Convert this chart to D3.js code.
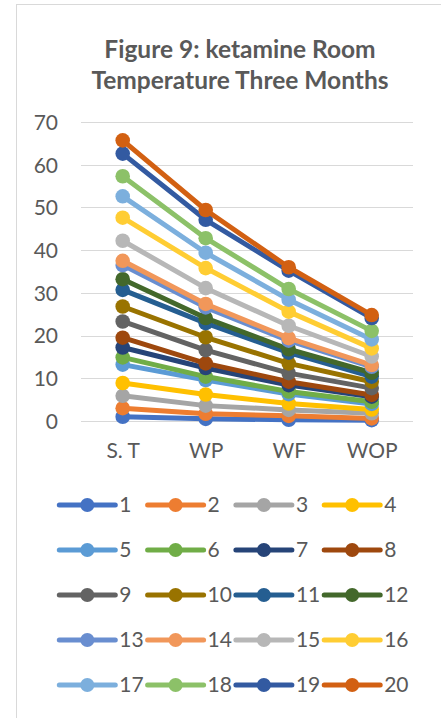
<!DOCTYPE html>
<html><head><meta charset="utf-8">
<script src="https://cdn.jsdelivr.net/npm/d3@7"></script>
<style>html,body{margin:0;padding:0;background:#fff;}svg{display:block;}</style>
</head><body>
<svg id="chart" width="441" height="718"></svg>
<script>
const categories = ["S. T", "WP", "WF", "WOP"];
const seriesNames = ["1","2","3","4","5","6","7","8","9","10","11","12","13","14","15","16","17","18","19","20"];
const s1  = [1.0, 0.5, 0.3, 0.2];
const s2  = [3.0, 1.7, 1.2, 0.6];
const s3  = [5.9, 3.6, 2.6, 1.8];
const s4  = [8.9, 6.2, 4.1, 2.7];
const s5  = [13.2, 9.6, 6.3, 4.0];
const s6  = [14.9, 10.4, 6.9, 4.5];
const s7  = [17.2, 12.4, 8.4, 5.7];
const s8  = [19.5, 13.5, 9.2, 6.1];
const s9  = [23.3, 16.6, 11.2, 7.7];
const s10 = [26.8, 19.6, 13.5, 9.2];
const s11 = [30.7, 22.9, 16.0, 10.4];
const s12 = [33.2, 24.1, 16.8, 11.3];
const s13 = [36.5, 26.6, 18.8, 12.7];
const s14 = [37.5, 27.4, 19.4, 13.1];
const s15 = [42.2, 31.1, 22.3, 15.1];
const s16 = [47.6, 35.8, 25.6, 17.0];
const s17 = [52.6, 39.4, 28.4, 19.1];
const s18 = [57.3, 42.8, 30.9, 21.1];
const s19 = [62.6, 47.1, 35.2, 24.1];
const s20 = [65.7, 49.4, 36.0, 24.8];
const yTicks = [0, 10, 20, 30, 40, 50, 60, 70];
const colors = ["#4472C4","#ED7D31","#A5A5A5","#FFC000","#5B9BD5","#70AD47","#264478","#9E480E","#636363","#997300","#255E91","#43682B","#698ED0","#F1975A","#B7B7B7","#FFCD33","#7CAFDD","#8CC168","#335AA1","#D26012"];
const titleLines = ["Figure 9: ketamine Room", "Temperature Three Months"];

const allSeries = [s1,s2,s3,s4,s5,s6,s7,s8,s9,s10,s11,s12,s13,s14,s15,s16,s17,s18,s19,s20];
const data = seriesNames.map((n,i)=>({name:n, values:allSeries[i], color:colors[i]}));

const svg = d3.select("#chart");
const FONT = "Lato, 'Open Sans', sans-serif";
const TXT = "#595959";

// chart border
svg.append("rect").attr("x",16.5).attr("y",4.5).attr("width",430).attr("height",720)
  .attr("fill","#fff").attr("stroke","#D9D9D9").attr("stroke-width",1);

// title
const title = svg.append("g");
titleLines.forEach((t,i)=>{
  title.append("text").attr("x",240).attr("y",57.5+i*31).attr("text-anchor","middle")
    .attr("font-family",FONT).attr("font-weight","bold").attr("font-size",24.5)
    .attr("fill",TXT).text(t);
});

const x = d3.scalePoint().domain(categories).range([122.7, 371.7]);
const y = d3.scaleLinear().domain([0,70]).range([421,122]);

// gridlines
svg.append("g").selectAll("line").data(yTicks).join("line")
  .attr("x1",81).attr("x2",413).attr("y1",d=>Math.round(y(d))+0.5).attr("y2",d=>Math.round(y(d))+0.5)
  .attr("stroke","#D9D9D9").attr("stroke-width",1);

// y axis
const yAxis = svg.append("g").attr("transform","translate(58,0)")
  .call(d3.axisLeft(y).tickValues(yTicks).tickSize(0).tickPadding(0));
yAxis.select(".domain").remove();
yAxis.selectAll("text").attr("font-family",FONT).attr("font-size",21).attr("fill",TXT).attr("dy","0.35em");

// x axis
const xAxis = svg.append("g").attr("transform","translate(0,421)")
  .call(d3.axisBottom(x).tickSize(0).tickPadding(0));
xAxis.select(".domain").remove();
xAxis.selectAll("text").attr("font-family",FONT).attr("font-size",21).attr("fill",TXT).attr("dy",0).attr("y",37);

// lines
const line = d3.line().x((d,i)=>x(categories[i])).y(d=>y(d));
const gS = svg.append("g");
data.forEach(s=>{
  const g = gS.append("g");
  g.append("path").attr("d",line(s.values)).attr("fill","none").attr("stroke",s.color)
    .attr("stroke-width",5).attr("stroke-linejoin","round").attr("stroke-linecap","round");
  g.selectAll("circle").data(s.values).join("circle")
    .attr("cx",(d,i)=>x(categories[i])).attr("cy",d=>y(d)).attr("r",7.3).attr("fill",s.color);
});

// legend
const leg = svg.append("g");
data.forEach((s,i)=>{
  const col = i%4, row = Math.floor(i/4);
  const lx = 59.3 + col*88.3, ly = 505 + row*45;
  const g = leg.append("g");
  g.append("line").attr("x1",lx).attr("x2",lx+56).attr("y1",ly).attr("y2",ly)
    .attr("stroke",s.color).attr("stroke-width",5).attr("stroke-linecap","round");
  g.append("circle").attr("cx",lx+28).attr("cy",ly).attr("r",7).attr("fill",s.color);
  g.append("text").attr("x",lx+60).attr("y",ly).attr("dy","0.35em")
    .attr("font-family",FONT).attr("font-size",21).attr("fill",TXT).text(s.name);
});
</script>
</body></html>
